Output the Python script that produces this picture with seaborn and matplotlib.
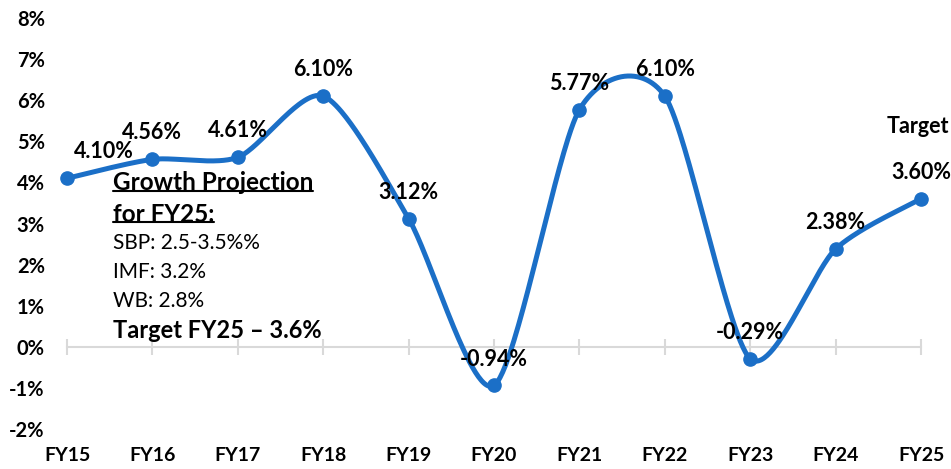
import numpy as np
import pandas as pd
import matplotlib
matplotlib.use("Agg")
import matplotlib.pyplot as plt
import seaborn as sns
from matplotlib.lines import Line2D

# ---- data ----
years = ["FY15", "FY16", "FY17", "FY18", "FY19", "FY20", "FY21", "FY22", "FY23", "FY24", "FY25"]
growth = [4.10, 4.56, 4.61, 6.10, 3.12, -0.94, 5.77, 6.10, -0.29, 2.38, 3.60]
yticks = [-2, -1, 0, 1, 2, 3, 4, 5, 6, 7, 8]
box_title = ["Growth Projection", "for FY25:"]
box_lines = ["SBP: 2.5-3.5%%", "IMF: 3.2%", "WB: 2.8%"]
box_target = "Target FY25 \u2013 3.6%"
target_label = "Target"

BLUE = "#1B6FC7"
GRID = "#D9D9D9"

sns.set_theme(style="white")
plt.rcParams["font.family"] = ["Lato", "DejaVu Sans"]

W, H = 951, 469
fig = plt.figure(figsize=(W / 100, H / 100), dpi=100)
ax = fig.add_axes([67 / W, 1 - 429 / H, (921 - 67) / W, (429 - 18) / H])

# smoothed curve (Bezier through the points, like a spreadsheet "smoothed line")
x = np.arange(len(growth), dtype=float)
y = np.array(growth, dtype=float)
k = 0.13
sx, sy = [], []
n = len(x)
for i in range(n - 1):
    p0 = (x[max(i - 1, 0)], y[max(i - 1, 0)])
    p1 = (x[i], y[i])
    p2 = (x[i + 1], y[i + 1])
    p3 = (x[min(i + 2, n - 1)], y[min(i + 2, n - 1)])
    c1 = (p1[0] + k * (p2[0] - p0[0]), p1[1] + k * (p2[1] - p0[1]))
    c2 = (p2[0] - k * (p3[0] - p1[0]), p2[1] - k * (p3[1] - p1[1]))
    t = np.linspace(0, 1, 60)
    bx = (1 - t) ** 3 * p1[0] + 3 * (1 - t) ** 2 * t * c1[0] + 3 * (1 - t) * t ** 2 * c2[0] + t ** 3 * p2[0]
    by = (1 - t) ** 3 * p1[1] + 3 * (1 - t) ** 2 * t * c1[1] + 3 * (1 - t) * t ** 2 * c2[1] + t ** 3 * p2[1]
    sx.extend(bx)
    sy.extend(by)
curve = pd.DataFrame({"x": sx, "y": sy})
pts = pd.DataFrame({"x": x, "y": y})

sns.lineplot(data=curve, x="x", y="y", sort=False, ax=ax, color=BLUE, lw=3.6,
             clip_on=False, zorder=3)
ax.plot(pts["x"], pts["y"], "o", color=BLUE, ms=9.5, clip_on=False, zorder=4)

ax.set_xlim(0, len(years) - 1)
ax.set_ylim(-2, 8)
ax.set_xlabel("")
ax.set_ylabel("")
ax.set_yticks(yticks)
ax.set_yticklabels([f"{v}%" for v in yticks])
ax.set_xticks(x)
ax.set_xticklabels(years)

for s in ["top", "right", "left"]:
    ax.spines[s].set_visible(False)
ax.spines["bottom"].set_position(("data", 0))
ax.spines["bottom"].set_color(GRID)
ax.spines["bottom"].set_linewidth(1.5)
ax.tick_params(axis="x", direction="inout", length=11.5, width=1.5, color=GRID,
               pad=66.5, labelsize=14, bottom=True)
ax.tick_params(axis="y", length=0, pad=16, labelsize=14.5)
for lab in ax.get_xticklabels() + ax.get_yticklabels():
    lab.set_fontweight("bold")
    lab.set_color("black")
ax.grid(False)

# data labels
for i, (xi, yi) in enumerate(zip(x, y)):
    dx = 26.5 if i == 0 else 0
    ax.annotate(f"{yi:.2f}%", (xi, yi), xytext=(dx, 19), textcoords="offset points",
                ha="center", va="center", fontsize=15.5, fontweight="bold", color="black",
                annotation_clip=False, zorder=5)
ax.annotate(target_label, (x[-1], y[-1]), xytext=(-2.5, 52), textcoords="offset points",
            ha="center", va="center", fontsize=15.5, fontweight="bold", color="black",
            annotation_clip=False)

# text box
lx = 113 / W
title_texts = []
for j, s in enumerate(box_title):
    t = fig.text(lx, 1 - (183 + 31 * j) / H, s, ha="left", va="center",
                 fontsize=17.5, fontweight="bold", color="black")
    title_texts.append(t)
for j, s in enumerate(box_lines):
    fig.text(lx, 1 - (243 + 29 * j) / H, s, ha="left", va="center",
             fontsize=15, color="black")
fig.text(lx, 1 - 330 / H, box_target, ha="left", va="center",
         fontsize=17, fontweight="bold", color="black")

fig.canvas.draw()
r = fig.canvas.get_renderer()
for t in title_texts:
    bb = t.get_window_extent(renderer=r)
    yb = (bb.y0 + 3) / H
    fig.add_artist(Line2D([bb.x0 / W, bb.x1 / W], [yb, yb], color="black", lw=1.5))

fig.savefig("out.png", dpi=100)
